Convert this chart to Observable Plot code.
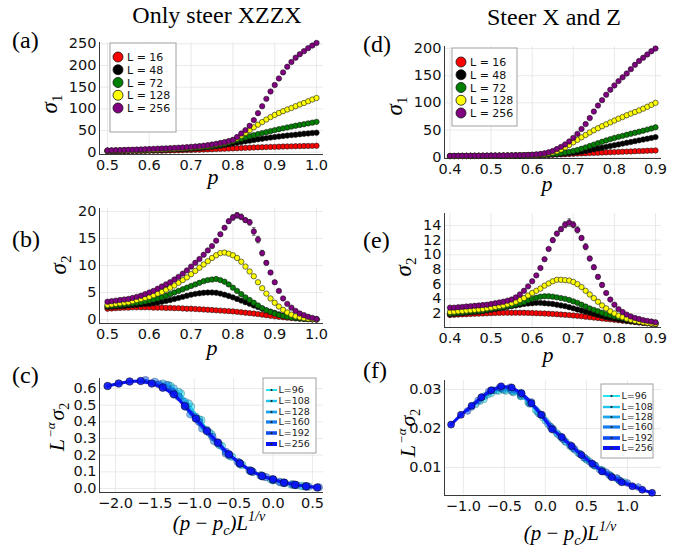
<!DOCTYPE html>
<html><head><meta charset="utf-8">
<script src="https://cdn.jsdelivr.net/npm/d3@7"></script>
<script src="https://cdn.jsdelivr.net/npm/@observablehq/plot@0.6"></script>
<style>
body{margin:0;background:#fff;}
#fig{position:relative;width:693px;height:547px;background:#fff;overflow:hidden;}
</style></head><body><div id="fig"></div>
<script>
// ---------- data ----------
const pLeft = [0.50,0.51,0.52,0.53,0.54,0.55,0.56,0.57,0.58,0.59,0.60,0.61,0.62,0.63,0.64,0.65,0.66,0.67,0.68,0.69,0.70,0.71,0.72,0.73,0.74,0.75,0.76,0.77,0.78,0.79,0.80,0.81,0.82,0.83,0.84,0.85,0.86,0.87,0.88,0.89,0.90,0.91,0.92,0.93,0.94,0.95,0.96,0.97,0.98,0.99,1.00];
const pRight = [0.40,0.41,0.42,0.43,0.44,0.45,0.46,0.47,0.48,0.49,0.50,0.51,0.52,0.53,0.54,0.55,0.56,0.57,0.58,0.59,0.60,0.61,0.62,0.63,0.64,0.65,0.66,0.67,0.68,0.69,0.70,0.71,0.72,0.73,0.74,0.75,0.76,0.77,0.78,0.79,0.80,0.81,0.82,0.83,0.84,0.85,0.86,0.87,0.88,0.89,0.90];
const sizesL = ["16","48","72","128","256"];
const colors5 = ["#ff0000","#000000","#008000","#ffff00","#800080"];

// (a) sigma1, only steer XZZX
const a16 = [2.0,2.1,2.2,2.3,2.4,2.5,2.6,2.7,2.8,3.0,3.1,3.2,3.4,3.5,3.7,3.9,4.1,4.3,4.6,4.9,5.2,5.5,5.8,6.1,6.5,6.8,7.2,7.6,8.0,8.4,8.8,9.2,9.6,10.0,10.4,10.8,11.1,11.4,11.8,12.1,12.4,12.7,13.0,13.3,13.5,13.8,14.0,14.2,14.4,14.6,14.8];
const a48 = [3.0,3.1,3.2,3.3,3.5,3.6,3.8,3.9,4.1,4.3,4.5,4.8,5.0,5.3,5.6,5.9,6.2,6.6,7.0,7.4,7.9,8.6,9.4,10.3,11.3,12.4,13.6,15.0,16.5,18.2,20.0,21.8,23.4,25.0,26.6,28.2,29.7,31.1,32.5,33.8,35.0,36.2,37.3,38.4,39.4,40.4,41.4,42.4,43.3,44.2,45.0];
const a72 = [3.3,3.4,3.5,3.7,3.8,4.0,4.2,4.4,4.6,4.8,5.1,5.4,5.7,6.0,6.4,6.8,7.2,7.7,8.2,8.8,9.4,10.1,10.9,11.8,12.8,13.9,15.5,17.3,19.5,22.0,25.0,28.0,31.0,34.0,36.8,39.3,41.7,44.0,46.3,48.6,50.8,53.0,55.0,57.0,59.0,61.0,62.8,64.6,66.4,68.2,70.0];
const a128 = [3.6,3.7,3.9,4.0,4.2,4.4,4.6,4.8,5.1,5.4,5.7,6.0,6.4,6.8,7.2,7.7,8.2,8.8,9.4,10.1,10.9,11.8,12.8,13.9,15.1,16.5,18.1,19.9,22.0,24.5,27.5,32,38,44.5,51,57.5,63.5,69.5,75.5,81,86,90.5,94.5,98.5,102,106,110,113.5,117.5,121.5,125];
const a256 = [4.0,4.3,4.6,4.9,5.2,5.5,5.8,6.1,6.5,6.9,7.3,7.7,8.1,8.5,8.9,9.4,9.9,10.4,11.0,11.7,12.4,13.2,14.1,15.1,16.3,17.7,19.3,21.1,23.2,25.6,28.5,35,43,51,61,74,90,106,123,140,155,170,184,197,208,218,226,233,240,246,252];

// (b) sigma2, only steer XZZX
const b16 = [2.0,2.05,2.1,2.15,2.2,2.2,2.25,2.25,2.25,2.25,2.25,2.2,2.2,2.2,2.15,2.15,2.1,2.1,2.05,2.0,2.0,1.95,1.9,1.85,1.8,1.75,1.7,1.65,1.6,1.55,1.5,1.42,1.34,1.26,1.18,1.1,1.0,0.9,0.8,0.7,0.6,0.5,0.42,0.34,0.27,0.2,0.15,0.1,0.06,0.03,0.01];
const b48 = [2.3,2.35,2.4,2.45,2.5,2.6,2.65,2.7,2.8,2.85,2.9,3.0,3.15,3.3,3.45,3.6,3.8,4.0,4.2,4.4,4.6,4.75,4.85,4.95,5.0,5.0,4.95,4.8,4.6,4.35,4.1,3.8,3.5,3.2,2.9,2.6,2.3,2.0,1.7,1.45,1.2,0.95,0.75,0.58,0.44,0.32,0.23,0.15,0.09,0.05,0.02];
const b72 = [2.5,2.55,2.6,2.7,2.8,2.9,3.0,3.1,3.2,3.35,3.5,3.7,3.9,4.1,4.4,4.7,5.0,5.3,5.6,5.9,6.2,6.5,6.8,7.1,7.3,7.4,7.5,7.3,7.0,6.5,5.9,5.3,4.7,4.1,3.6,3.1,2.6,2.1,1.7,1.4,1.1,0.85,0.65,0.5,0.38,0.28,0.2,0.14,0.09,0.05,0.02];
const b128 = [2.7,2.8,2.9,3.0,3.1,3.2,3.4,3.6,3.8,4.0,4.2,4.5,4.8,5.1,5.5,5.9,6.3,6.8,7.3,7.8,8.4,9.0,9.6,10.2,10.8,11.4,11.9,12.3,12.4,12.2,11.9,11.4,10.7,9.8,8.9,8.0,6.9,5.8,4.8,3.9,3.1,2.4,1.8,1.3,0.9,0.6,0.4,0.25,0.15,0.08,0.03];
const b256 = [3.3,3.4,3.5,3.6,3.7,3.8,4.0,4.2,4.4,4.7,5.0,5.3,5.7,6.1,6.5,6.9,7.4,7.9,8.5,9.1,9.8,10.5,11.2,12.0,12.8,13.6,14.6,15.8,17.0,18.2,18.9,19.3,19.0,18.4,18.0,16.3,14.8,12.3,10.5,8.7,6.9,5.3,3.9,2.9,2.2,1.6,1.1,0.8,0.5,0.3,0.1];
const b256err = [0,0,0,0,0,0,0,0,0,0,0,0,0,0,0,0,0,0,0,0,0,0,0,0,0,0,0,0.3,0.3,0.4,0.5,0.5,0.5,0.4,0.5,0.7,0.6,0.5,0.4,0.3,0.3,0,0,0,0,0,0,0,0,0,0];

// (d) sigma1, steer X and Z
const d16 = [2.0,2.0,2.05,2.1,2.1,2.15,2.2,2.2,2.25,2.3,2.35,2.4,2.45,2.5,2.6,2.7,2.8,2.9,3.0,3.15,3.3,3.5,3.7,3.9,4.2,4.5,4.8,5.1,5.5,5.9,6.3,6.7,7.0,7.3,7.6,7.9,8.2,8.5,8.8,9.1,9.4,9.7,10.0,10.3,10.6,10.9,11.2,11.5,11.8,12.1,12.4];
const d48 = [2.0,2.05,2.1,2.15,2.2,2.25,2.3,2.35,2.4,2.45,2.5,2.55,2.6,2.7,2.8,2.9,3.0,3.1,3.2,3.35,3.5,3.7,3.9,4.2,4.6,5.0,5.5,6.1,6.7,7.4,8.1,9.0,10.2,11.5,13.0,14.5,16.0,17.5,19.0,20.5,22.0,23.5,25.0,26.5,28.0,29.5,31.0,32.5,34.0,35.5,37.0];
const d72 = [2.1,2.15,2.2,2.25,2.3,2.35,2.4,2.45,2.5,2.55,2.6,2.65,2.7,2.8,2.9,3.0,3.1,3.2,3.4,3.6,3.8,4.0,4.3,4.7,5.2,5.8,6.5,7.4,8.5,9.8,11.3,13.2,15.5,18.0,20.6,23.2,25.8,28.3,30.8,33.2,35.4,37.4,39.3,41.2,43.1,45.0,46.9,48.8,50.8,52.8,55.0];
const d128 = [2.2,2.25,2.3,2.35,2.4,2.45,2.5,2.55,2.6,2.65,2.7,2.8,2.9,3.0,3.1,3.2,3.35,3.5,3.7,3.9,4.2,4.6,5.2,6.0,7.2,8.8,11.0,14.0,18.0,22.5,27.5,32.0,36.5,41.0,45.5,49.5,53.3,57.0,60.5,64.0,67.5,70.8,74.0,77.2,80.2,83.1,86.0,89.3,92.8,96.3,100];
const d256 = [2.5,2.55,2.6,2.65,2.7,2.75,2.8,2.85,2.9,2.95,3.0,3.05,3.1,3.2,3.3,3.4,3.5,3.7,3.9,4.2,4.6,5.2,6.0,7.2,9.0,11.5,15.0,19.0,23.5,29.0,35.5,43,52,61,72,84,95,105,115,124,132,140,147,154,162,170,177,183,189,195,200];

// (e) sigma2, steer X and Z
const e16 = [1.8,1.82,1.85,1.88,1.9,1.93,1.96,1.98,2.0,2.02,2.05,2.07,2.08,2.1,2.1,2.1,2.1,2.1,2.1,2.08,2.06,2.04,2.02,2.0,1.97,1.94,1.9,1.86,1.82,1.78,1.73,1.68,1.62,1.56,1.5,1.44,1.38,1.32,1.26,1.2,1.14,1.08,1.02,0.96,0.9,0.84,0.78,0.72,0.66,0.6,0.55];
const e48 = [1.9,1.95,2.0,2.05,2.1,2.15,2.2,2.25,2.3,2.4,2.5,2.6,2.7,2.8,2.9,3.0,3.1,3.2,3.3,3.35,3.4,3.45,3.45,3.4,3.35,3.3,3.2,3.1,3.0,2.85,2.7,2.55,2.4,2.25,2.1,1.95,1.8,1.65,1.5,1.4,1.3,1.2,1.1,1.0,0.93,0.86,0.8,0.74,0.68,0.62,0.56];
const e72 = [2.0,2.05,2.1,2.15,2.2,2.25,2.3,2.35,2.4,2.5,2.6,2.7,2.8,2.9,3.0,3.1,3.25,3.4,3.55,3.8,4.0,4.15,4.3,4.35,4.35,4.3,4.2,4.1,4.0,3.85,3.65,3.45,3.2,2.95,2.7,2.5,2.3,2.1,1.9,1.75,1.6,1.48,1.37,1.25,1.14,1.06,1.0,0.92,0.82,0.76,0.7];
const e128 = [2.2,2.25,2.3,2.35,2.4,2.45,2.5,2.55,2.6,2.7,2.8,2.9,3.0,3.1,3.25,3.4,3.6,3.85,4.1,4.45,4.8,5.1,5.4,5.8,6.1,6.4,6.6,6.6,6.55,6.5,6.3,6.0,5.6,5.1,4.6,4.1,3.6,3.1,2.7,2.3,2.0,1.7,1.5,1.3,1.15,1.0,0.9,0.8,0.72,0.65,0.6];
const e256 = [2.8,2.8,2.85,2.9,2.95,3.0,3.05,3.1,3.15,3.2,3.3,3.4,3.5,3.6,3.75,3.9,4.2,4.6,5.1,5.7,6.4,7.2,8.2,9.4,10.8,12.0,12.9,13.5,14.1,14.4,14.1,13.4,12.3,11.1,9.5,8.3,7.0,5.9,4.8,3.9,3.2,2.6,2.2,1.85,1.6,1.4,1.25,1.1,1.0,0.9,0.8];
const e256err = [0,0,0,0,0,0,0,0,0,0,0,0,0,0,0,0,0,0,0,0,0,0,0,0,0,0.3,0.3,0.3,0.4,0.5,0.4,0.4,0.3,0.4,0.3,0.3,0.3,0.3,0,0,0,0,0,0,0,0,0,0,0,0,0];

// (c),(f) scaling collapse
const collapseL = ["96","108","128","160","192","256"];
const collapseColors = ["#22e4ee","#1cc4ef","#18a2f0","#157cf0","#0f4ff2","#0a14f5"];
const collapseWidths = [1, 1.4, 1.8, 2.2, 2.6, 3];
const cX = [
  [-1.30,-1.17,-1.04,-0.91,-0.78,-0.65,-0.52,-0.39,-0.26,-0.13,0.00,0.13,0.26,0.39],
  [-1.33,-1.20,-1.07,-0.94,-0.81,-0.68,-0.55,-0.42,-0.29,-0.16,-0.03,0.10,0.23,0.36],
  [-1.40,-1.26,-1.12,-0.98,-0.84,-0.70,-0.56,-0.42,-0.28,-0.14,0.00,0.14,0.28,0.42],
  [-1.50,-1.35,-1.20,-1.05,-0.90,-0.75,-0.60,-0.45,-0.30,-0.15,0.00,0.15,0.30,0.45],
  [-1.62,-1.45,-1.28,-1.11,-0.94,-0.77,-0.60,-0.43,-0.26,-0.09,0.08,0.25,0.42,0.58],
  [-2.10,-1.96,-1.82,-1.68,-1.54,-1.40,-1.26,-1.12,-0.98,-0.84,-0.70,-0.56,-0.42,-0.28,-0.14,0.00,0.14,0.28,0.42,0.56]
];
const cY = [
  [0.615,0.57,0.49,0.41,0.325,0.255,0.19,0.14,0.10,0.072,0.05,0.034,0.022,0.013],
  [0.62,0.58,0.51,0.415,0.335,0.26,0.195,0.145,0.105,0.078,0.055,0.036,0.024,0.015],
  [0.63,0.60,0.52,0.43,0.35,0.27,0.20,0.15,0.105,0.075,0.05,0.033,0.021,0.012],
  [0.64,0.62,0.55,0.445,0.36,0.285,0.21,0.16,0.11,0.078,0.052,0.033,0.02,0.011],
  [0.65,0.625,0.58,0.49,0.40,0.31,0.22,0.155,0.10,0.068,0.040,0.025,0.013,0.007],
  [0.615,0.630,0.642,0.645,0.630,0.605,0.565,0.495,0.420,0.345,0.275,0.205,0.150,0.105,0.075,0.055,0.035,0.022,0.013,0.006]
];
const fX = [
  [-0.75,-0.66,-0.57,-0.48,-0.39,-0.30,-0.21,-0.12,-0.03,0.06,0.15,0.24,0.33,0.42,0.51,0.60,0.69,0.78,0.87,0.96],
  [-0.80,-0.70,-0.60,-0.50,-0.40,-0.30,-0.20,-0.10,0.00,0.10,0.20,0.30,0.40,0.50,0.60,0.70,0.80,0.90],
  [-0.85,-0.74,-0.63,-0.52,-0.41,-0.30,-0.19,-0.08,0.03,0.14,0.25,0.36,0.47,0.58,0.69,0.80,0.91],
  [-0.90,-0.78,-0.66,-0.54,-0.42,-0.30,-0.18,-0.06,0.06,0.18,0.30,0.42,0.54,0.66,0.78,0.90],
  [-0.95,-0.82,-0.69,-0.56,-0.43,-0.30,-0.17,-0.04,0.09,0.22,0.35,0.48,0.61,0.74,0.87,1.00,1.13],
  [-1.15,-1.03,-0.90,-0.78,-0.66,-0.54,-0.41,-0.29,-0.17,-0.05,0.08,0.20,0.32,0.44,0.57,0.69,0.81,0.93,1.06,1.18,1.30]
];
const fY = [
  [0.0275,0.0290,0.0296,0.0296,0.0292,0.0282,0.0267,0.0248,0.0228,0.0205,0.0185,0.0167,0.0150,0.0135,0.0120,0.0106,0.0094,0.0082,0.0072,0.0063],
  [0.0270,0.0287,0.0297,0.0298,0.0294,0.0283,0.0265,0.0243,0.0220,0.0196,0.0175,0.0155,0.0137,0.0120,0.0104,0.0090,0.0078,0.0067],
  [0.0262,0.0283,0.0298,0.0300,0.0296,0.0285,0.0263,0.0238,0.0212,0.0188,0.0165,0.0145,0.0125,0.0107,0.0092,0.0078,0.0066],
  [0.0255,0.0280,0.0298,0.0303,0.0300,0.0288,0.0265,0.0235,0.0205,0.0180,0.0158,0.0135,0.0115,0.0095,0.0080,0.0067],
  [0.0245,0.0272,0.0295,0.0305,0.0306,0.0292,0.0268,0.0235,0.0200,0.0172,0.0148,0.0125,0.0105,0.0088,0.0073,0.0060,0.0050],
  [0.0210,0.0235,0.0258,0.0280,0.0298,0.0308,0.0305,0.0290,0.0265,0.0235,0.0198,0.0178,0.0155,0.0132,0.0110,0.0090,0.0075,0.0062,0.0052,0.0043,0.0035]
];

// ticks
const xTicksL = [0.5,0.6,0.7,0.8,0.9,1.0];
const xTicksR = [0.4,0.5,0.6,0.7,0.8,0.9];
const yTicksA = [0,50,100,150,200,250];
const yTicksB = [0,5,10,15,20];
const yTicksC = [0,0.1,0.2,0.3,0.4,0.5,0.6];
const yTicksD = [0,50,100,150,200];
const yTicksE = [2,4,6,8,10,12,14];
const yTicksF = [0.01,0.02,0.03];
const xTicksC = [-2,-1.5,-1,-0.5,0,0.5];
const xTicksF = [-1,-0.5,0,0.5,1];

// ---------- drawing ----------
const fig = document.getElementById("fig");
const ML = 60, MR = 14, MT = 10, MB = 30;

function panel(fr, xd, yd, xt, yt, xf, yf, marks) {
  const svg = Plot.plot({
    width: fr.w + ML + MR, height: fr.h + MT + MB,
    marginLeft: ML, marginRight: MR, marginTop: MT, marginBottom: MB,
    style: {fontFamily: "DejaVu Sans", fontSize: "14.5px", color: "#111", background: "transparent", overflow: "visible"},
    x: {domain: xd, ticks: xt, tickFormat: xf, tickSize: 0, tickPadding: 5, label: null},
    y: {domain: yd, ticks: yt, tickFormat: yf, tickSize: 0, tickPadding: 3, label: null},
    marks: [
      Plot.ruleX(xt, {stroke: "#e4e4e4", strokeWidth: 0.8}),
      Plot.ruleY(yt, {stroke: "#e4e4e4", strokeWidth: 0.8}),
      Plot.ruleX([xd[0]], {stroke: "#3a3a3a", strokeWidth: 1}),
      Plot.ruleY([yd[0]], {stroke: "#3a3a3a", strokeWidth: 1}),
      ...marks
    ]
  });
  svg.style.position = "absolute";
  svg.style.left = (fr.l - ML) + "px";
  svg.style.top = (fr.t - MT) + "px";
  fig.appendChild(svg);
}

function sigmaMarks(ps, series, errs) {
  const marks = [];
  series.forEach((arr, i) => {
    const rows = ps.map((p, j) => ({p, v: arr[j], e: errs && errs[i] ? errs[i][j] : 0}));
    const eb = rows.filter(d => d.e > 0);
    if (eb.length) {
      marks.push(Plot.ruleX(eb, {x: "p", y1: d => d.v - d.e, y2: d => d.v + d.e, stroke: "#555", strokeWidth: 1}));
      marks.push(Plot.link(eb, {x1: d => d.p - 0.004, x2: d => d.p + 0.004, y1: d => d.v + d.e, y2: d => d.v + d.e, stroke: "#555", strokeWidth: 1}));
      marks.push(Plot.link(eb, {x1: d => d.p - 0.004, x2: d => d.p + 0.004, y1: d => d.v - d.e, y2: d => d.v - d.e, stroke: "#555", strokeWidth: 1}));
    }
    marks.push(Plot.dot(rows, {x: "p", y: "v", r: 2.7, fill: colors5[i], stroke: "#1a1a1a", strokeWidth: 0.6}));
  });
  return marks;
}

function collapseMarks(xs, ys, r) {
  const marks = [];
  xs.forEach((xa, i) => {
    const rows = xa.map((x, j) => ({x, y: ys[i][j]}));
    marks.push(Plot.line(rows, {x: "x", y: "y", stroke: collapseColors[i], strokeWidth: collapseWidths[i]}));
    marks.push(Plot.dot(rows, {x: "x", y: "y", r, fill: collapseColors[i], fillOpacity: i === 5 ? 0.9 : 0.55, stroke: "#000", strokeOpacity: i === 5 ? 0.7 : 0.3, strokeWidth: 0.7}));
  });
  return marks;
}

const f1 = d3.format(".1f"), f2 = d3.format(".2f"), f0 = d3.format("d");

panel({l: 99, t: 42, w: 224, h: 112}, [0.4809, 1.0167], [-5.3, 253], xTicksL, yTicksA, f1, f0,
  sigmaMarks(pLeft, [a16, a48, a72, a128, a256]));
panel({l: 99, t: 208, w: 224, h: 115}, [0.4809, 1.0167], [-0.74, 20.56], xTicksL, yTicksB, f1, f0,
  sigmaMarks(pLeft, [b16, b48, b72, b128, b256], [null, null, null, null, b256err]));
panel({l: 99, t: 378, w: 224, h: 114}, [-2.203, 0.640], [-0.024, 0.66], xTicksC, yTicksC, f1, f1,
  collapseMarks(cX, cY, 3.8));
panel({l: 444, t: 46, w: 217, h: 112}, [0.3866, 0.9146], [-2.4, 203.7], xTicksR, yTicksD, f1, f0,
  sigmaMarks(pRight, [d16, d48, d72, d128, d256]));
panel({l: 444, t: 213, w: 217, h: 114}, [0.3866, 0.9146], [0.09, 15.64], xTicksR, yTicksE, f1, f0,
  sigmaMarks(pRight, [e16, e48, e72, e128, e256], [null, null, null, null, e256err]));
panel({l: 444, t: 380, w: 217, h: 115}, [-1.23, 1.415], [0.00282, 0.0323], xTicksF, yTicksF, f1, f2,
  collapseMarks(fX, fY, 3.5));

// ---------- overlay: titles, labels, legends ----------
const NS = "http://www.w3.org/2000/svg";
const ov = document.createElementNS(NS, "svg");
ov.setAttribute("width", 693); ov.setAttribute("height", 547);
ov.style.position = "absolute"; ov.style.left = "0"; ov.style.top = "0";
let h = "";
const serif = "Liberation Serif";
h += `<g font-family="${serif}" fill="#000">`;
h += `<text x="217" y="23" text-anchor="middle" font-size="24">Only steer XZZX</text>`;
h += `<text x="554" y="25" text-anchor="middle" font-size="24">Steer X and Z</text>`;
[["(a)",12,48],["(b)",12,247],["(c)",12,383],["(d)",363,52],["(e)",363,248],["(f)",363,378]].forEach(([t,x,y]) => {
  h += `<text x="${x}" y="${y}" font-size="24">${t}</text>`;
});
// x labels p
[[213,184],[212,355],[547,191],[548,362]].forEach(([x,y]) => {
  h += `<text x="${x}" y="${y}" font-size="22" font-style="italic" text-anchor="middle">p</text>`;
});
// collapse x labels
function xcol(cx, y) {
  return `<text x="${cx}" y="${y}" font-size="21" font-style="italic" text-anchor="middle">(p <tspan font-style="normal">−</tspan> p<tspan dy="5" font-size="14">c</tspan><tspan dy="-5">)L</tspan><tspan dy="-9" font-size="14">1/ν</tspan></text>`;
}
h += xcol(219, 530) + xcol(570, 540);
// y labels
function ysig(x, y, n) {
  return `<text transform="translate(${x},${y}) rotate(-90)" font-size="23" font-style="italic" text-anchor="middle">σ<tspan dy="5" font-size="15" font-style="normal">${n}</tspan></text>`;
}
function ycol(x, y) {
  return `<text transform="translate(${x},${y}) rotate(-90)" font-size="22" font-style="italic" text-anchor="middle">L<tspan dy="-9" dx="1" font-size="13">−α</tspan><tspan dy="9" dx="2">σ</tspan><tspan dy="5" font-size="14" font-style="normal">2</tspan></text>`;
}
h += ysig(57, 104, 1) + ysig(66, 265, 2) + ysig(402, 106, 1) + ysig(411, 267, 2) + ycol(64, 427) + ycol(415, 433);
h += `</g>`;
// legends for sigma panels
function legend5(x, y, w, hgt, rows, mx, tx) {
  let s = `<rect x="${x}" y="${y}" width="${w}" height="${hgt}" fill="#fff" stroke="#a0a0a0" stroke-width="1"/>`;
  rows.forEach((cy, i) => {
    s += `<circle cx="${mx}" cy="${cy}" r="5" fill="${colors5[i]}" stroke="#111" stroke-width="0.8"/>`;
    s += `<text x="${tx}" y="${cy + 4}" font-family="DejaVu Sans" font-size="11" fill="#111">L = ${sizesL[i]}</text>`;
  });
  return s;
}
h += legend5(110, 43, 66, 89, [57, 69.75, 82.5, 95.25, 108], 118, 127);
h += legend5(452, 48, 65, 78, [62, 74.75, 87.5, 100.25, 113], 461, 470);
function legend6(x, y, w, hgt, rows, lx1, lx2, tx) {
  let s = `<rect x="${x}" y="${y}" width="${w}" height="${hgt}" fill="#fff" stroke="#a0a0a0" stroke-width="1"/>`;
  rows.forEach((cy, i) => {
    s += `<line x1="${lx1}" x2="${lx2}" y1="${cy}" y2="${cy}" stroke="${collapseColors[i]}" stroke-width="${collapseWidths[i] + 1}"/>`;
    s += `<circle cx="${(lx1 + lx2) / 2}" cy="${cy}" r="1.1" fill="#222"/>`;
    s += `<text x="${tx}" y="${cy + 3.4}" font-family="DejaVu Sans" font-size="9.5" fill="#222">L=${collapseL[i]}</text>`;
  });
  return s;
}
h += legend6(263, 378, 53, 75, [390, 401, 412, 422, 433, 444], 266, 277, 278.5);
h += legend6(601, 384, 52, 74, [396, 407, 417, 427, 438, 448], 603, 620, 621.5);
ov.innerHTML = h;
fig.appendChild(ov);
</script>
</body></html>
